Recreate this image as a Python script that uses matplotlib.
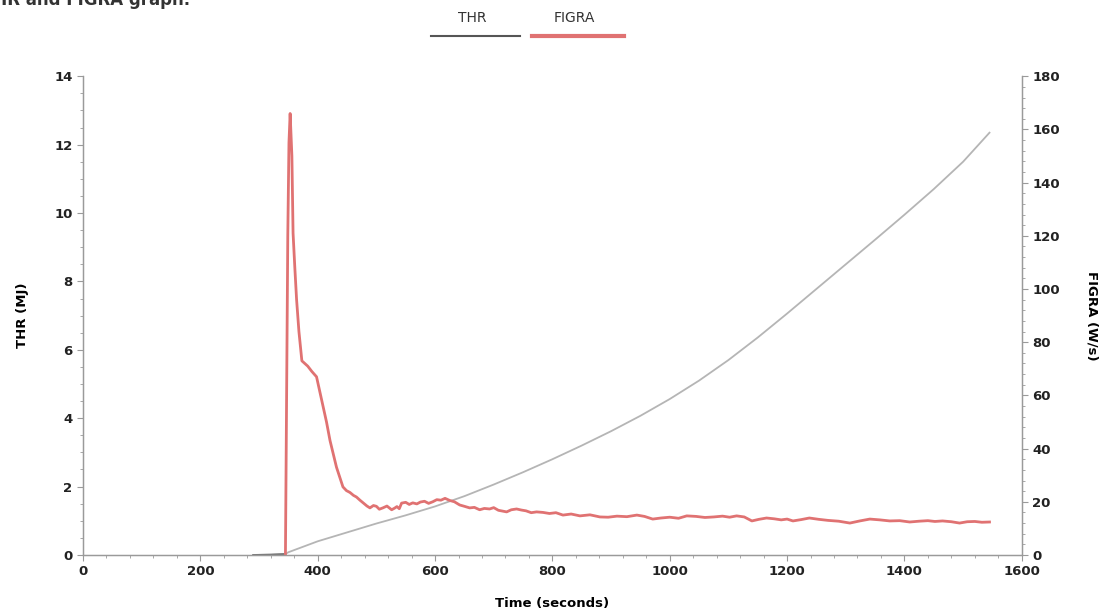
import matplotlib.pyplot as plt
from matplotlib.lines import Line2D
from matplotlib.ticker import MultipleLocator

# THR (MJ) - total heat release, left axis
thr_t = [290, 320, 345, 350, 400, 450, 500, 550, 600, 650, 700, 750, 800, 850, 900, 950,
         1000, 1050, 1100, 1150, 1200, 1250, 1300, 1350, 1400, 1450, 1500, 1545]
thr_v = [0.0, 0.01, 0.03, 0.08, 0.40, 0.66, 0.92, 1.16, 1.42, 1.72, 2.06, 2.42, 2.80, 3.20, 3.62, 4.07,
         4.56, 5.10, 5.70, 6.36, 7.06, 7.78, 8.50, 9.22, 9.95, 10.70, 11.50, 12.35]

# FIGRA (W/s) - right axis
figra_t = [345, 347, 349, 351, 353, 356, 358, 361, 364, 368, 373, 378, 383, 390, 398, 407, 415, 421,
           432, 443, 449, 455, 461, 466, 472, 478, 484, 489, 495, 500, 505, 511, 518, 526, 531, 535,
           539, 543, 550, 556, 562, 569, 575, 582, 589, 596, 603, 610, 617, 625, 633, 642, 650,
           659, 667, 676, 684, 693, 700, 708, 715, 722, 730, 739, 747, 755, 764, 773, 784, 795,
           806, 818, 832, 847, 864, 881, 895, 910, 927, 944, 957, 971, 985, 1000, 1015, 1029,
           1045, 1060, 1075, 1090, 1102, 1114, 1127, 1140, 1152, 1165, 1178, 1190, 1200, 1210,
           1224, 1238, 1254, 1270, 1288, 1307, 1324, 1341, 1358, 1375, 1392, 1409, 1425, 1440,
           1452, 1465, 1480, 1494, 1507, 1520, 1532, 1545]
figra_v = [0, 60, 120, 155, 166, 150, 121, 108, 96, 84, 73, 72, 71, 69, 67, 58, 50, 43,
           33, 25.6, 24.2, 23.5, 22.4, 21.8, 20.6, 19.5, 18.4, 17.7, 18.6, 18.3, 17.2, 17.7, 18.4, 17.0, 17.6, 18.2,
           17.4, 19.5, 19.8, 19.0, 19.6, 19.2, 19.9, 20.2, 19.4, 20.0, 20.8, 20.6, 21.3, 20.5, 20.0, 18.8, 18.3,
           17.7, 17.9, 17.0, 17.5, 17.3, 17.8, 16.8, 16.5, 16.2, 17.0, 17.3, 16.9, 16.6, 15.9, 16.2, 16.0, 15.6,
           15.9, 15.0, 15.4, 14.7, 15.1, 14.3, 14.2, 14.6, 14.4, 15.0, 14.5, 13.5, 13.9, 14.2, 13.8, 14.7,
           14.5, 14.1, 14.3, 14.6, 14.2, 14.7, 14.3, 12.8, 13.4, 13.9, 13.6, 13.2, 13.5, 12.8,
           13.3, 13.9, 13.4, 13.0, 12.7, 12.0, 12.8, 13.5, 13.2, 12.8, 12.9, 12.4, 12.7, 12.9,
           12.6, 12.8, 12.5, 12.0, 12.5, 12.6, 12.3, 12.4]

thr_color = '#b5b5b5'
figra_color = '#e07272'
axis_color = '#9a9a9a'

fig = plt.figure(figsize=(11.07, 6.15), dpi=100)
ax = fig.add_axes([0.075, 0.0976, 0.848, 0.7784])
ax2 = ax.twinx()

ax.plot(thr_t, thr_v, color=thr_color, lw=1.3)
ax.plot(thr_t[:3], thr_v[:3], color='#777777', lw=1.3)
ax2.plot(figra_t, figra_v, color=figra_color, lw=2.0)

ax.set_xlim(0, 1600)
ax.set_ylim(0, 14)
ax2.set_ylim(0, 180)
ax.xaxis.set_major_locator(MultipleLocator(200))
ax.xaxis.set_minor_locator(MultipleLocator(40))
ax.yaxis.set_major_locator(MultipleLocator(2))
ax.yaxis.set_minor_locator(MultipleLocator(0.5))
ax2.yaxis.set_major_locator(MultipleLocator(20))
ax2.yaxis.set_minor_locator(MultipleLocator(4))

for a in (ax, ax2):
    a.spines['top'].set_visible(False)
    for s in ('left', 'right', 'bottom'):
        a.spines[s].set_color(axis_color)
        a.spines[s].set_linewidth(0.9)
    a.tick_params(which='major', length=4, width=0.8, color=axis_color, labelsize=9.5)
    a.tick_params(which='minor', length=2, width=0.6, color=axis_color)
    for lab in a.get_xticklabels() + a.get_yticklabels():
        lab.set_fontweight('bold')
        lab.set_color('#222222')

ax.set_xlabel('Time (seconds)', fontsize=9.5, fontweight='bold')
ax.set_ylabel('THR (MJ)', fontsize=9.5, fontweight='bold')
ax2.set_ylabel('FIGRA (W/s)', fontsize=9.5, fontweight='bold', rotation=270, va='bottom')
ax.xaxis.set_label_coords(0.5, -0.087)
ax.yaxis.set_label_coords(-0.058, 0.5)
ax2.yaxis.set_label_coords(1.068, 0.5)

# legend: text above a short line
fig.text(0.4265, 0.97, 'THR', ha='center', va='center', fontsize=10, color='#333333', family='Liberation Sans Narrow')
fig.text(0.5185, 0.97, 'FIGRA', ha='center', va='center', fontsize=10, color='#333333', family='Liberation Sans Narrow')
fig.add_artist(Line2D([0.389, 0.470], [0.942, 0.942], color='#555555', lw=1.5))
fig.add_artist(Line2D([0.481, 0.564], [0.942, 0.942], color=figra_color, lw=3))

# cropped caption at the top edge
fig.text(0.172, 1.0, 'THR and FIGRA graph.', ha='right', va='center', fontsize=12, fontweight='bold', color='#333333')

fig.savefig('out.png', dpi=100)
